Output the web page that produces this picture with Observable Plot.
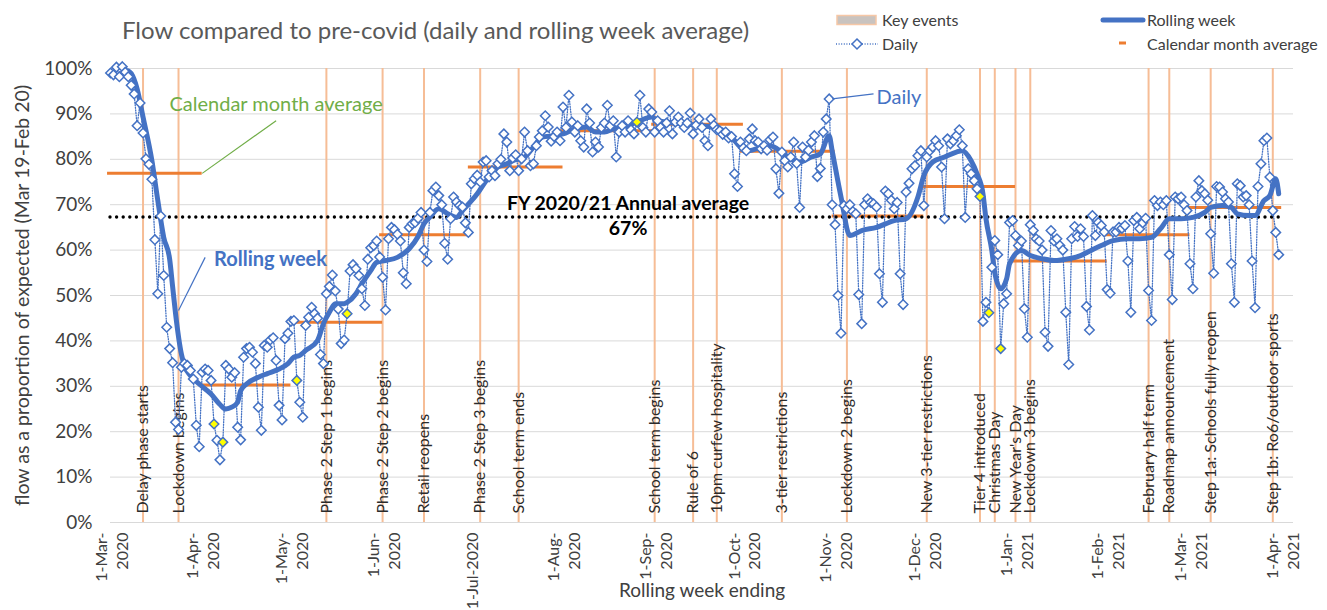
<!DOCTYPE html>
<html><head><meta charset="utf-8">
<script src="https://cdn.jsdelivr.net/npm/d3@7"></script>
<script src="https://cdn.jsdelivr.net/npm/@observablehq/plot@0.6"></script>
<style>
body{margin:0;background:#fff;font-family:Lato,"Open Sans",sans-serif;}
#wrap{position:relative;width:1327px;height:610px;overflow:hidden;}
#header{position:relative;height:50px;}
.title{position:absolute;left:122px;top:15px;font-size:24px;color:#595959;white-space:nowrap;}
.leg{position:absolute;font-size:16px;color:#404040;white-space:nowrap;line-height:18px;}
.sw{position:absolute;}
</style></head><body>
<div id="wrap">
<div id="header">
  <div class="title">Flow compared to pre-covid (daily and rolling week average)</div>
  <svg class="sw" style="left:836px;top:14px" width="42" height="12"><rect x="1" y="1.5" width="39" height="9" fill="#c9c3bf" stroke="#f6c7a6" stroke-width="1.5"/></svg>
  <div class="leg" style="left:882px;top:11px">Key events</div>
  <svg class="sw" style="left:836px;top:37px" width="42" height="14"><line x1="0" y1="7" x2="42" y2="7" stroke="#4472C4" stroke-width="1.3" stroke-dasharray="1,1.6"/><path d="M21,2 L26,7 L21,12 L16,7 Z" fill="white" stroke="#4472C4" stroke-width="1.5"/></svg>
  <div class="leg" style="left:882px;top:35px">Daily</div>
  <svg class="sw" style="left:1100px;top:14px" width="46" height="12"><line x1="3" y1="6" x2="43" y2="6" stroke="#4472C4" stroke-width="5" stroke-linecap="round"/></svg>
  <div class="leg" style="left:1147px;top:11px">Rolling week</div>
  <svg class="sw" style="left:1118px;top:38px" width="10" height="10"><line x1="1" y1="5" x2="8" y2="5" stroke="#ED7D31" stroke-width="3"/></svg>
  <div class="leg" style="left:1147px;top:35px">Calendar month average</div>
</div>
<div id="chart"></div>
</div>
<script>
// ---------------- DATA ----------------
const startDate = "2020-03-01";
const daily = [
 99.0, 98.6,100.3, 98.2,100.4, 99.2, 98.2, 96.3, 94.4, 87.4,
 92.4, 85.8, 80.1, 78.9, 75.6, 62.3, 50.4, 67.5, 54.4, 43.0,
 38.3, 35.2, 22.1, 20.5, 34.2, 35.0, 34.6, 33.5, 31.6, 21.4,
 16.7, 33.1, 33.8, 33.5, 31.3, 21.7, 18.1, 13.8, 17.7, 34.6,
 33.8, 32.0, 33.0, 21.0, 18.2, 36.4, 38.3, 38.6, 37.5, 35.0,
 25.4, 20.3, 39.0, 38.6, 40.2, 40.7, 35.7, 25.8, 22.6, 40.5,
 41.7, 44.3, 44.5, 31.3, 26.5, 23.2, 43.4, 45.2, 47.4, 46.0,
 45.0, 37.0, 35.0, 50.4, 52.0, 54.5, 51.0, 47.0, 39.4, 40.2,
 46.0, 55.4, 56.8, 55.9, 54.4, 51.5, 47.8, 58.0, 60.5, 61.0,
 62.0, 58.5, 54.0, 46.8, 62.5, 65.0, 64.5, 63.5, 62.0, 55.0,
 52.6, 65.0, 65.8, 66.1, 67.0, 68.3, 60.0, 57.5, 68.3, 73.1,
 73.9, 72.0, 70.0, 61.5, 58.0, 66.9, 71.7, 70.6, 69.8, 69.5,
 66.0, 63.9, 74.6, 75.7, 76.5, 75.0, 79.4, 79.7, 76.1, 77.5,
 76.4, 79.0, 80.0, 85.6, 83.8, 77.5, 80.3, 81.0, 77.5, 80.1,
 86.0, 81.9, 78.6, 79.0, 83.0, 84.9, 86.3, 89.6, 87.1, 84.0,
 85.0, 86.0, 84.1, 91.5, 87.0, 94.1, 88.2, 86.0, 87.4, 84.1,
 82.7, 91.1, 88.0, 81.6, 83.8, 82.7, 87.0, 88.0, 91.9, 87.4,
 88.5, 80.5, 86.0, 87.4, 86.0, 88.5, 86.5, 85.6, 88.2, 94.1,
 87.0, 86.0, 91.1, 90.4, 86.0, 88.5, 87.0, 86.0, 88.0, 90.7,
 85.6, 88.2, 89.3, 88.0, 87.0, 88.0, 90.2, 85.6, 87.5, 88.9,
 87.0, 84.1, 83.0, 88.9, 87.5, 86.5, 86.3, 85.5, 86.0, 84.7,
 85.0, 76.8, 74.0, 83.8, 82.5, 81.9, 84.5, 86.7, 84.1, 83.8,
 82.3, 83.0, 82.0, 84.3, 84.9, 77.9, 72.5, 81.6, 79.7, 78.3,
 80.5, 83.8, 79.1, 69.4, 82.7, 80.5, 82.0, 83.8, 85.2, 76.2,
 78.0, 86.0, 88.9, 93.3, 70.0, 65.6, 50.0, 41.7, 69.8, 69.1,
 70.0, 68.5, 68.0, 50.2, 43.8, 70.0, 71.3, 70.5, 70.2, 69.5,
 54.8, 48.5, 73.0, 72.4, 71.0, 69.1, 70.5, 54.8, 48.0, 72.8,
 74.7, 77.9, 78.6, 80.8, 81.9, 69.8, 80.5, 81.9, 82.7, 84.1,
 83.0, 78.3, 66.9, 84.5, 83.4, 84.1, 85.2, 86.5, 83.0, 67.2,
 77.9, 76.8, 75.3, 73.5, 71.8, 44.3, 48.5, 46.2, 56.2, 62.1,
 59.0, 38.3, 48.2, 50.4, 66.1, 66.5, 63.2, 61.0, 62.0, 47.1,
 40.8, 65.6, 64.3, 62.5, 62.0, 60.0, 41.9, 38.8, 64.3, 62.0,
 62.5, 61.0, 60.0, 46.3, 34.8, 62.5, 65.2, 63.0, 64.7, 63.0,
 47.6, 42.4, 67.6, 63.2, 66.1, 65.4, 64.0, 51.3, 50.5, 64.0,
 64.0, 65.0, 64.8, 65.4, 57.6, 46.3, 66.5, 67.2, 64.7, 66.0,
 67.0, 51.1, 44.5, 70.9, 69.8, 70.6, 70.0, 70.9, 59.0, 49.1,
 71.7, 71.3, 71.7, 70.0, 68.7, 57.0, 51.5, 71.7, 75.3, 73.1,
 72.4, 71.0, 63.6, 54.9, 74.0, 73.9, 72.8, 71.3, 70.6, 57.0,
 48.5, 74.6, 74.2, 71.7, 72.0, 70.0, 57.6, 47.3, 74.0, 79.0,
 84.1, 84.7, 76.1, 68.7, 63.9, 59.0
];
const holidayDays = [35, 38, 63, 80, 178, 294, 297, 301];

const rollDay = [6,7,9,11,14,16,18,20,21,22,24,25,27,30,34,37,39,41,43,44,46,50,53,57,60,62,64,66,70,72,74,76,79,80,83,85,88,90,93,97,101,104,106,108,111,114,117,119,124,127,131,134,136,140,143,146,150,153,157,161,164,167,170,175,179,183,185,188,193,200,206,210,213,216,220,223,227,230,233,237,240,243,244,247,250,254,259,265,269,273,275,278,282,286,288,291,293,295,296,298,299,301,303,304,308,311,315,319,324,328,332,335,339,344,348,352,355,358,362,366,370,372,376,379,381,385,387,390,392,394,395];
const rollVal = [99.5,98.9,95.5,89.3,79.7,70.9,62.8,58.0,52.0,46.0,37.0,34.5,32.4,30.5,28.3,26.0,25.0,25.4,26.5,29.0,30.5,32.0,32.8,33.8,35.0,36.4,36.8,37.9,40.1,43.8,46.3,48.2,48.2,48.5,50.4,52.6,55.5,57.3,57.7,58.4,60.3,63.0,65.8,67.3,69.1,68.0,67.2,68.7,72.4,75.3,78.3,79.0,79.7,80.5,82.7,84.9,85.2,85.6,86.7,87.1,86.0,86.0,86.7,87.4,88.5,89.3,88.5,88.2,87.8,87.4,86.7,84.9,82.7,81.9,82.7,83.0,81.6,80.1,79.4,80.5,81.2,85.2,81.9,71.7,63.2,64.3,65.0,66.5,66.9,71.7,76.4,79.4,80.5,81.6,81.9,79.7,76.8,72.4,67.0,59.9,55.0,51.5,53.7,57.0,59.9,58.8,58.1,57.7,58.1,58.8,60.1,61.0,62.1,62.5,62.5,62.8,64.7,66.9,66.9,67.2,68.3,69.4,69.8,69.4,68.0,67.6,67.6,70.9,72.0,75.7,72.4];

const monthStarts = ["2020-03-01","2020-04-01","2020-05-01","2020-06-01","2020-07-01","2020-08-01","2020-09-01","2020-10-01","2020-11-01","2020-12-01","2021-01-01","2021-02-01","2021-03-01"];
const monthAvg = [76.9, 30.3, 44.1, 63.4, 78.3, 86.3, 87.7, 81.8, 67.5, 74.0, 57.6, 63.4, 69.4];

const annualAvg = 67.3;
const annualLabel = "FY 2020/21 Annual average";
const annualValueLabel = "67%";

const eventDates = ["2020-03-12","2020-03-24","2020-05-13","2020-06-01","2020-06-15","2020-07-04","2020-07-17","2020-09-01","2020-09-14","2020-09-22","2020-10-14","2020-11-05","2020-12-02","2020-12-20","2020-12-25","2021-01-01","2021-01-06","2021-02-15","2021-02-22","2021-03-08","2021-03-29"];
const eventLabels = ["Delay phase starts","Lockdown begins","Phase 2 Step 1 begins","Phase 2 Step 2 begins","Retail reopens","Phase 2 Step 3 begins","School term ends","School term begins","Rule of 6","10pm curfew hospitality","3-tier restrictions","Lockdown 2 begins","New 3-tier restrictions","Tier 4 introduced","Christmas Day","New Year's Day","Lockdown 3 begins","February half term","Roadmap announcement","Step 1a: Schools fully reopen","Step 1b: Ro6/outdoor sports"];

const yTicks = [0,10,20,30,40,50,60,70,80,90,100];
const xTickDates = ["2020-03-01","2020-04-01","2020-05-01","2020-06-01","2020-07-01","2020-08-01","2020-09-01","2020-10-01","2020-11-01","2020-12-01","2021-01-01","2021-02-01","2021-03-01","2021-04-01"];
const xTickLabels = ["1-Mar-\n2020","1-Apr-\n2020","1-May-\n2020","1-Jun-\n2020","1-Jul-2020","1-Aug-\n2020","1-Sep-\n2020","1-Oct-\n2020","1-Nov-\n2020","1-Dec-\n2020","1-Jan-\n2021","1-Feb-\n2021","1-Mar-\n2021","1-Apr-\n2021"];

// annotation callouts
const calloutText  = ["Calendar month average", "Rolling week", "Daily"];
const calloutDate  = ["2020-04-26", "2020-04-05", "2020-11-15"];
const calloutValue = [92.1, 57.9, 93.6];
const leaderFrom = [["2020-04-01", 76.9], ["2020-04-02", 58.4], ["2020-10-31", 93.3]];
const leaderTo   = [["2020-04-26", 88.5], ["2020-03-24", 46.7], ["2020-11-14", 94.4]];

// ---------------- BUILD ----------------
const DAY = 864e5;
const t0 = new Date(startDate).getTime();
const dayDate = d => new Date(t0 + d * DAY);
const D = s => new Date(s);

const dailyData = daily.map((v, i) => ({date: dayDate(i), v, hol: holidayDays.includes(i)}));
const rollData = rollDay.map((d, i) => ({date: dayDate(d), v: rollVal[i]}));
const months = monthStarts.map((s, i) => {
  const a = D(s);
  const b = new Date(Date.UTC(a.getUTCFullYear(), a.getUTCMonth() + 1, 1));
  return {x1: new Date(a.getTime() - DAY), x2: b, v: monthAvg[i]};
});
const events = eventDates.map((s, i) => ({date: D(s), label: eventLabels[i]}));
const tickLabelMap = new Map(xTickDates.map((s, i) => [+D(s), xTickLabels[i]]));
const callouts = calloutText.map((t, i) => ({text: t, date: D(calloutDate[i]), v: calloutValue[i]}));
const leaders = leaderFrom.map((f, i) => ({x1: D(f[0]), y1: f[1], x2: D(leaderTo[i][0]), y2: leaderTo[i][1]}));
const blue = "#4472C4";

const chart = Plot.plot({
  width: 1327, height: 560,
  marginLeft: 110, marginRight: 34, marginTop: 18, marginBottom: 88,
  style: {fontFamily: "Lato, 'Open Sans', sans-serif", fontSize: "16px", color: "#404040", background: "white", overflow: "visible"},
  x: {type: "utc", domain: [D("2020-03-01"), D("2021-04-05")], label: null},
  y: {domain: [0, 100], label: null},
  marks: [
    Plot.ruleY(yTicks, {stroke: "#d9d9d9", strokeWidth: 1}),
    Plot.ruleX(events, {x: "date", y1: 0, y2: 100, stroke: "#f6bd96", strokeWidth: 2}),
    Plot.text(events, {x: "date", y: 0, text: "label", rotate: -90, textAnchor: "start", lineAnchor: "middle", dy: -9, fontSize: 16, fill: "#2b2b2b"}),
    Plot.ruleY(months, {x1: "x1", x2: "x2", y: "v", stroke: "#ED7D31", strokeWidth: 3}),
    Plot.ruleY([annualAvg], {x1: D("2020-03-01"), x2: D("2021-03-31"), stroke: "black", strokeWidth: 3.4, strokeDasharray: "0,6.6", strokeLinecap: "round"}),
    Plot.line(dailyData, {x: "date", y: "v", stroke: blue, strokeWidth: 1.3, strokeDasharray: "1,1.6"}),
    Plot.line(rollData, {x: "date", y: "v", stroke: blue, strokeWidth: 5, curve: "monotone-x", strokeLinejoin: "round", strokeLinecap: "round"}),
    Plot.dot(dailyData.filter(d => !d.hol), {x: "date", y: "v", symbol: "diamond2", r: 4.3, stroke: blue, strokeWidth: 1.5, fill: "white"}),
    Plot.dot(dailyData.filter(d => d.hol), {x: "date", y: "v", symbol: "diamond2", r: 4.3, stroke: blue, strokeWidth: 1.5, fill: "#ffff00"}),
    Plot.link(leaders.slice(0,1), {x1: "x1", y1: "y1", x2: "x2", y2: "y2", stroke: "#70AD47", strokeWidth: 1.2}),
    Plot.link(leaders.slice(1), {x1: "x1", y1: "y1", x2: "x2", y2: "y2", stroke: blue, strokeWidth: 1.2}),
    Plot.text(callouts.slice(0,1), {x: "date", y: "v", text: "text", fill: "#70AD47", fontSize: 20, textAnchor: "middle"}),
    Plot.text(callouts.slice(1,2), {x: "date", y: "v", text: "text", fill: blue, fontSize: 20, fontWeight: "bold", textAnchor: "start"}),
    Plot.text(callouts.slice(2), {x: "date", y: "v", text: "text", fill: blue, fontSize: 20, textAnchor: "start"}),
    Plot.text([annualLabel], {x: D("2020-08-23"), y: 70.3, fontSize: 19.5, fontWeight: "bold", fill: "black"}),
    Plot.text([annualValueLabel], {x: D("2020-08-23"), y: 64.6, fontSize: 19.5, fontWeight: "bold", fill: "black"}),
    Plot.axisY(yTicks, {tickFormat: d => d + "%", tickSize: 0, tickPadding: 18, fontSize: 19, fill: "#404040", label: null}),
    Plot.axisX(xTickDates.map(D), {tickFormat: d => tickLabelMap.get(+d), tickRotate: -90, tickSize: 0, tickPadding: 10, textAnchor: "end", lineAnchor: "middle", lineHeight: 1.3, fontSize: 16, fill: "#404040", label: null}),
    Plot.text(["flow as a proportion of expected (Mar 19-Feb 20)"], {frameAnchor: "left", dx: -88, rotate: -90, textAnchor: "middle", fontSize: 19.5, fill: "#404040"}),
    Plot.text(["Rolling week ending"], {frameAnchor: "bottom", dy: 74, fontSize: 19, fill: "#404040"})
  ]
});
document.getElementById("chart").appendChild(chart);
</script>
</body></html>
